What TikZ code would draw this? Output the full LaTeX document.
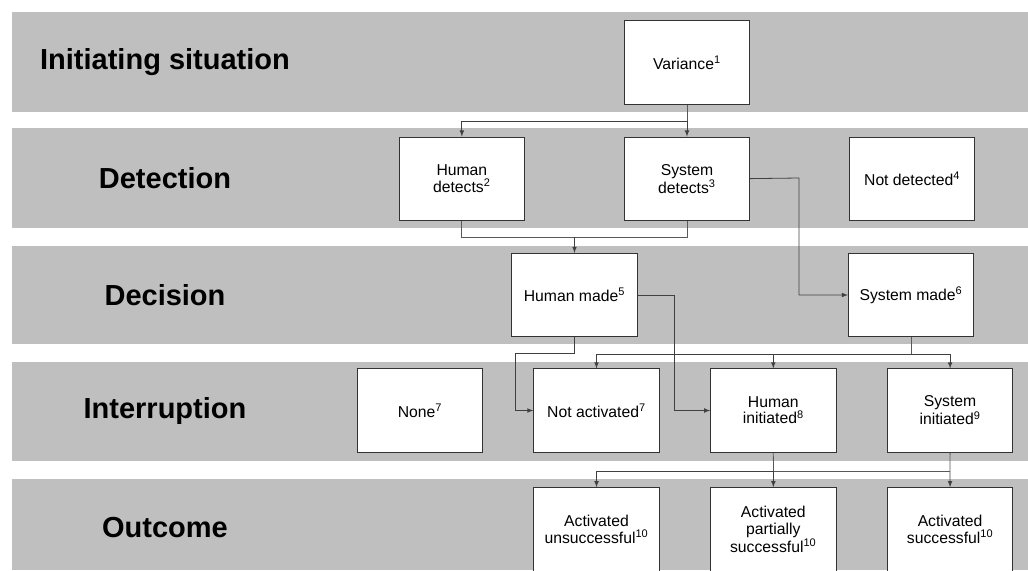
\documentclass[tikz,border=0pt]{standalone}
\usepackage{fontspec}
\setmainfont{Liberation Sans}
\usepackage{tikz}
\usetikzlibrary{arrows}
\usetikzlibrary{calc}
\usetikzlibrary{positioning}

\begin{document}
\begin{tikzpicture}[x=0.75pt,y=-0.75pt]
        \tikzstyle{band}=[fill=black!25, draw=none]
        \tikzstyle{lbl}=[font=\fontsize{21.75}{24}\selectfont\bfseries]
        \tikzstyle{box}=[rectangle, draw=black!80, fill=white, line width=0.6pt, minimum width=94pt, minimum height=62.5pt, align=center, inner sep=1pt, font=\fontsize{11.8}{12.2}\selectfont]
        \tikzstyle{flow}=[draw, -latex, line width=0.6pt, black!75]
        \tikzstyle{line}=[draw, line width=0.6pt, black!65]

        \newcommand{\fn}[1]{\textsuperscript{#1}}

        \useasboundingbox (0,0) rectangle (1028,571);

        % stage bands
        \fill[band] (12,12) rectangle (1028,112);
        \fill[band] (12,128) rectangle (1028,228);
        \fill[band] (12,246) rectangle (1028,344);
        \fill[band] (12,362) rectangle (1028,461);
        \fill[band] (12,479) rectangle (1028,570);

        \node (l1) at (165,62) [lbl]{Initiating situation};
        \node (l2) at (165,178) [lbl]{Detection};
        \node (l3) at (165,295) [lbl]{Decision};
        \node (l4) at (165,411) [lbl]{Interruption};
        \node (l5) at (165,528) [lbl]{Outcome};

        % boxes
        \node (var) at (687,62.5) [box]{Variance\fn{1}};
        \node (sysdet) [box, below=24pt of var]{System\\detects\fn{3}};
        \node (humdet) [box, left=74.25pt of sysdet]{Human\\detects\fn{2}};
        \node (notdet) [box, right=74.25pt of sysdet]{Not detected\fn{4}};

        \node (hummade) at (574.5,295) [box]{Human made\fn{5}};
        \node (sysmade) at (911,295) [box]{System made\fn{6}};

        \node (none) at (420,410.5) [box]{None\fn{7}};
        \node (notact) at (596.5,410.5) [box]{Not activated\fn{7}};
        \node (humini) [box, right=38pt of notact]{Human\\initiated\fn{8}};
        \node (sysini) [box, right=38pt of humini]{System\\initiated\fn{9}};

        \node (unsucc) [box, below=26pt of notact]{Activated\\unsuccessful\fn{10}};
        \node (partial) [box, below=26pt of humini]{Activated\\partially\\successful\fn{10}};
        \node (succ) [box, below=26pt of sysini]{Activated\\successful\fn{10}};

        % connectors
        \coordinate (j1) at (687,121);
        \draw[line] (var.south)--(j1);
        \draw[flow] (j1)--(sysdet.north);
        \draw[flow] (j1)-|(humdet.north);

        \coordinate (j2) at (574.5,237);
        \draw[line] (humdet.south)|-(j2);
        \draw[line] (sysdet.south)|-(j2);
        \draw[flow] (j2)--(hummade.north);

        \coordinate (k1) at (799,178);
        \draw[flow] (sysdet.east)--(k1)|-(sysmade.west);

        \coordinate (k2) at (674,295);
        \draw[flow] (hummade.east)--(k2)|-(humini.west);

        \coordinate (k3) at (574.5,353);
        \coordinate (k4) at (515,353);
        \draw[flow] (hummade.south)--(k3)--(k4)|-(notact.west);

        \coordinate (j3) at (911,354);
        \draw[line] (sysmade.south)--(j3);
        \draw[flow] (j3)-|(notact.north);
        \draw[flow] (j3)-|(humini.north);
        \draw[flow] (j3)-|(sysini.north);

        \coordinate (j4) at (773.5,471);
        \coordinate (j5) at (950,471);
        \draw[line] (humini.south)--(j4);
        \draw[line] (sysini.south)--(j5);
        \draw[flow] (j4)--(partial.north);
        \draw[flow] (j4)-|(unsucc.north);
        \draw[flow] (j5)--(succ.north);
        \draw[line] (j4)--(j5);
\end{tikzpicture}
\end{document}
